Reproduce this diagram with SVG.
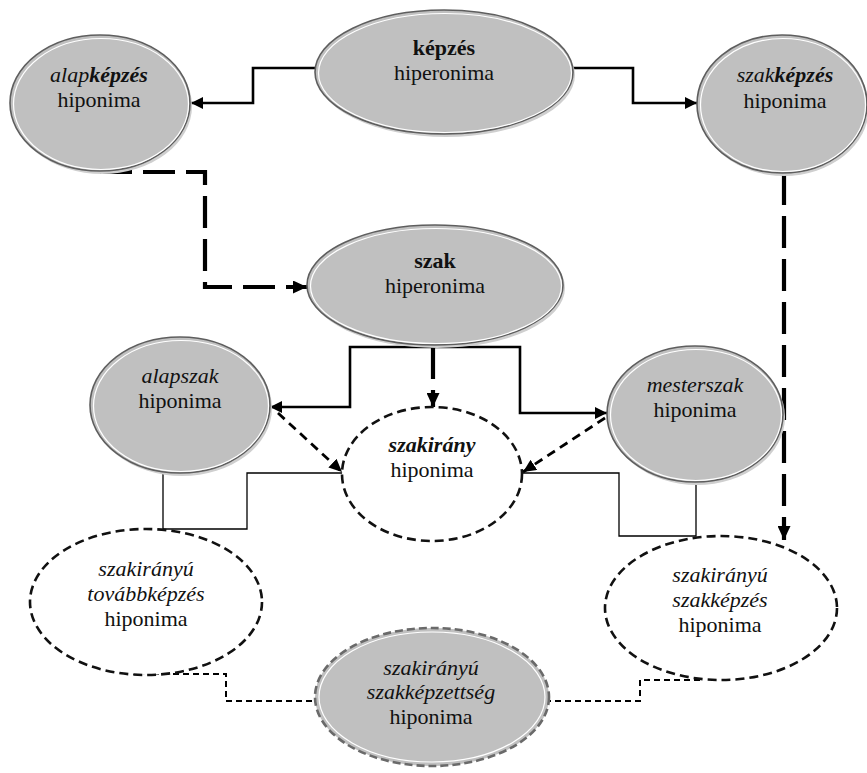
<svg xmlns="http://www.w3.org/2000/svg" width="867" height="773" viewBox="0 0 867 773" font-family="'Liberation Serif', 'Times New Roman', 'DejaVu Serif', serif">
<style>
text{font-family:'Liberation Serif','Times New Roman','DejaVu Serif',serif;font-size:22px;fill:#111;text-anchor:middle}
.i{font-style:italic}
.b{font-weight:bold}
.shadow{fill:#cfcfcf}
.gray{fill:#c0c0c0;stroke:#5e5e5e;stroke-width:1.6}
.hl{fill:none;stroke:#fff;stroke-width:1.2}
.dash{fill:#fff;stroke:#111;stroke-width:2.6;stroke-dasharray:9 5}
.gdash{fill:#c0c0c0;stroke:#6a6a6a;stroke-width:2.6;stroke-dasharray:8 4}
.solid{fill:none;stroke:#000;stroke-width:2.6}
.thick{fill:none;stroke:#000;stroke-width:4.2;stroke-dasharray:32 11}
.med{fill:none;stroke:#000;stroke-width:2.8;stroke-dasharray:9 6}
.thin{fill:none;stroke:#000;stroke-width:1.3}
.tdash{fill:none;stroke:#000;stroke-width:2;stroke-dasharray:6 4}
</style>
<defs>
<marker id="arr" markerUnits="userSpaceOnUse" viewBox="0 0 12 12" refX="12" refY="6" markerWidth="12" markerHeight="12" orient="auto"><path d="M0,0 L12,6 L0,12 Z" fill="#000"/></marker>
<marker id="arrT" markerUnits="userSpaceOnUse" viewBox="0 0 14 13" refX="14" refY="6.5" markerWidth="14" markerHeight="13" orient="auto"><path d="M0,0 L14,6.5 L0,13 Z" fill="#000"/></marker>
<marker id="arrM" markerUnits="userSpaceOnUse" viewBox="0 0 13 12" refX="13" refY="6" markerWidth="13" markerHeight="12" orient="auto"><path d="M0,0 L13,6 L0,12 Z" fill="#000"/></marker>
</defs>
<rect width="867" height="773" fill="#fff"/>

<g id="connectors">
<path class="solid" d="M315,68 H253 V103 H191" marker-end="url(#arr)"/>
<path class="solid" d="M573,68 H633 V103 H697" marker-end="url(#arr)"/>
<path class="solid" d="M433,347 H350 V407 H270" marker-end="url(#arr)"/>
<path class="solid" d="M433,347 H520 V413 H607" marker-end="url(#arr)"/>
<path class="thick" d="M100,172 H205 V287 H307" marker-end="url(#arrT)"/>
<path class="thick" d="M784,173 V540" marker-end="url(#arrT)"/>
<path class="thick" d="M433,347 V407" marker-end="url(#arrT)"/>
<path class="med" d="M278,413 L342,472" marker-end="url(#arrM)"/>
<path class="med" d="M605,418 L523,472" marker-end="url(#arrM)"/>
<path class="thin" d="M163,473 V529 H247 V473 H343"/>
<path class="thin" d="M696,480 V536 H619 V473 H522"/>
<path class="tdash" d="M133,674 H226 V701 H315"/>
<path class="tdash" d="M700,680 H640 V701 H548"/>
</g>

<g id="kepzes">
<ellipse class="shadow" cx="446" cy="75" rx="129" ry="62"/>
<ellipse class="gray" cx="444" cy="72" rx="129" ry="62"/>
<ellipse class="hl" cx="445" cy="73" rx="126.5" ry="59.5"/>
<text x="444" y="55" class="b">képzés</text>
<text x="444" y="80">hiperonima</text>
</g>

<g id="alapkepzes">
<ellipse class="shadow" cx="102" cy="106" rx="90" ry="68"/>
<ellipse class="gray" cx="100" cy="103" rx="90" ry="68"/>
<ellipse class="hl" cx="101" cy="104" rx="87.5" ry="65.5"/>
<text x="99" y="82"><tspan class="i">alap</tspan><tspan class="i b">képzés</tspan></text>
<text x="99" y="107">hiponima</text>
</g>

<g id="szakkepzes">
<ellipse class="shadow" cx="784" cy="107" rx="85" ry="69"/>
<ellipse class="gray" cx="782" cy="104" rx="85" ry="69"/>
<ellipse class="hl" cx="783" cy="105" rx="82.5" ry="66.5"/>
<text x="785" y="82"><tspan class="i">szak</tspan><tspan class="i b">képzés</tspan></text>
<text x="785" y="108">hiponima</text>
</g>

<g id="szak">
<ellipse class="shadow" cx="437" cy="288" rx="128" ry="60"/>
<ellipse class="gray" cx="435" cy="285" rx="128" ry="60"/>
<ellipse class="hl" cx="436" cy="286" rx="125.5" ry="57.5"/>
<text x="435" y="268" class="b">szak</text>
<text x="435" y="293">hiperonima</text>
</g>

<g id="alapszak">
<ellipse class="shadow" cx="182" cy="408" rx="90" ry="68"/>
<ellipse class="gray" cx="180" cy="405" rx="90" ry="68"/>
<ellipse class="hl" cx="181" cy="406" rx="87.5" ry="65.5"/>
<text x="180" y="383" class="i">alapszak</text>
<text x="180" y="408">hiponima</text>
</g>

<g id="mesterszak">
<ellipse class="shadow" cx="697" cy="417" rx="88" ry="68"/>
<ellipse class="gray" cx="695" cy="414" rx="88" ry="68"/>
<ellipse class="hl" cx="696" cy="415" rx="85.5" ry="65.5"/>
<text x="695" y="392" class="i">mesterszak</text>
<text x="695" y="417">hiponima</text>
</g>

<g id="szakirany">
<ellipse class="dash" cx="432" cy="474" rx="90" ry="67"/>
<text x="432" y="452" class="i b">szakirány</text>
<text x="432" y="477">hiponima</text>
</g>

<g id="tovabbkepzes">
<ellipse class="dash" cx="146" cy="602" rx="116" ry="73"/>
<text x="146" y="576" class="i">szakirányú</text>
<text x="146" y="601" class="i">továbbképzés</text>
<text x="146" y="626">hiponima</text>
</g>

<g id="szakiranyu-szakkepzes">
<ellipse class="dash" cx="721" cy="608" rx="116" ry="72"/>
<text x="720" y="582" class="i">szakirányú</text>
<text x="720" y="607" class="i">szakképzés</text>
<text x="720" y="632">hiponima</text>
</g>

<g id="szakkepzettseg">
<ellipse class="gdash" cx="432" cy="697" rx="117" ry="69"/>
<ellipse class="hl" cx="432" cy="697" rx="113" ry="65"/>
<text x="431" y="675" class="i">szakirányú</text>
<text x="431" y="699" class="i">szakképzettség</text>
<text x="431" y="724">hiponima</text>
</g>
</svg>
